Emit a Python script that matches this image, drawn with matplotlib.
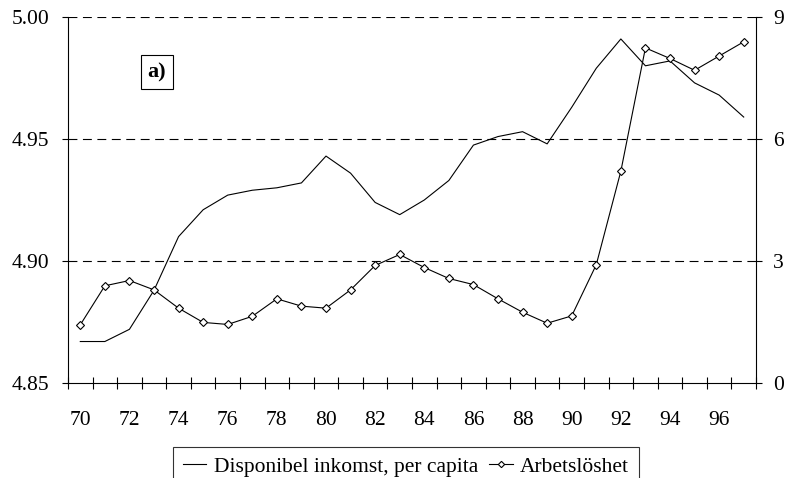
import matplotlib
matplotlib.use("Agg")
import matplotlib.pyplot as plt
from matplotlib.ticker import FixedLocator

plt.rcParams['font.family'] = ['Liberation Serif', 'DejaVu Serif']

years = list(range(70, 98))
income = [4.867, 4.867, 4.872, 4.888, 4.910, 4.921, 4.927, 4.929, 4.930, 4.932,
          4.943, 4.936, 4.924, 4.919, 4.925, 4.933, 4.9475, 4.951, 4.953, 4.948,
          4.963, 4.979, 4.991, 4.980, 4.982, 4.973, 4.968, 4.959]
unemployment = [1.43, 2.39, 2.52, 2.29, 1.84, 1.49, 1.44, 1.64, 2.07, 1.89,
                1.84, 2.29, 2.89, 3.16, 2.84, 2.57, 2.42, 2.07, 1.74, 1.47,
                1.65, 2.91, 5.21, 8.24, 7.98, 7.69, 8.04, 8.39]
left_ticks = [4.85, 4.90, 4.95, 5.00]
right_ticks = [0, 3, 6, 9]
x_labels = ['70', '72', '74', '76', '78', '80', '82', '84', '86', '88', '90', '92', '94', '96']
label_income = 'Disponibel inkomst, per capita'
label_unemp = 'Arbetslöshet'
panel_label = 'a)'

FS = 15.5

fig = plt.figure(figsize=(7.88, 4.78), dpi=100)
ax = fig.add_axes([68/788, 1-383/478, (756-68)/788, (383-17)/478])
ax2 = ax.twinx()

lw = 0.8
l1, = ax.plot(years, income, color='black', lw=lw, label=label_income)
l2, = ax2.plot(years, unemployment, color='black', lw=lw, marker='D', markersize=4,
               markerfacecolor='white', markeredgecolor='black', markeredgewidth=0.8,
               label=label_unemp)

ax.set_xlim(years[0] - 0.5, years[-1] + 0.5)
ax.set_ylim(left_ticks[0], left_ticks[-1])
ax2.set_ylim(right_ticks[0], right_ticks[-1])

ax.set_yticks(left_ticks)
ax.set_yticklabels([f"{v:.2f}" for v in left_ticks])
ax2.set_yticks(right_ticks)
ax2.set_yticklabels([str(v) for v in right_ticks])

for t in left_ticks[1:]:
    ax.axhline(t, color='black', lw=0.8, dashes=(8, 5), zorder=0)

xt = [int(s) for s in x_labels]
ax.set_xticks(xt)
ax.set_xticklabels(x_labels)
ax.xaxis.set_minor_locator(FixedLocator([y - 0.5 for y in years] + [years[-1] + 0.5]))
ax.tick_params(axis='x', which='major', length=0, pad=20, labelsize=FS)
ax.tick_params(axis='x', which='minor', direction='inout', length=8, width=0.8)
ax.tick_params(axis='y', which='major', direction='out', length=4.5, width=0.8, pad=9, labelsize=FS)
ax2.tick_params(axis='y', which='major', direction='out', length=4.5, width=0.8, pad=8, labelsize=FS)

for a in (ax, ax2):
    a.spines['top'].set_visible(False)
    for s in ('left', 'right', 'bottom'):
        a.spines[s].set_linewidth(0.8)
ax.spines['right'].set_visible(False)
ax2.spines['left'].set_visible(False)
ax2.spines['bottom'].set_visible(False)

ax.text(157/788, 1-72/478, panel_label, transform=fig.transFigure, fontsize=16,
        fontweight='bold', ha='center', va='center',
        bbox=dict(boxstyle='square,pad=0.3', facecolor='white', edgecolor='black', lw=0.8))

leg = fig.legend([l1, l2], [label_income, label_unemp], loc='upper left',
                 bbox_to_anchor=(173/788, 1-447/478), ncol=2, frameon=True,
                 fancybox=False, edgecolor='black', fontsize=FS, handlelength=1.1,
                 handletextpad=0.35, columnspacing=0.5, borderpad=0.45, borderaxespad=0,
                 markerscale=0.8)
leg.get_frame().set_linewidth(0.8)

fig.savefig('out.png', dpi=100)
